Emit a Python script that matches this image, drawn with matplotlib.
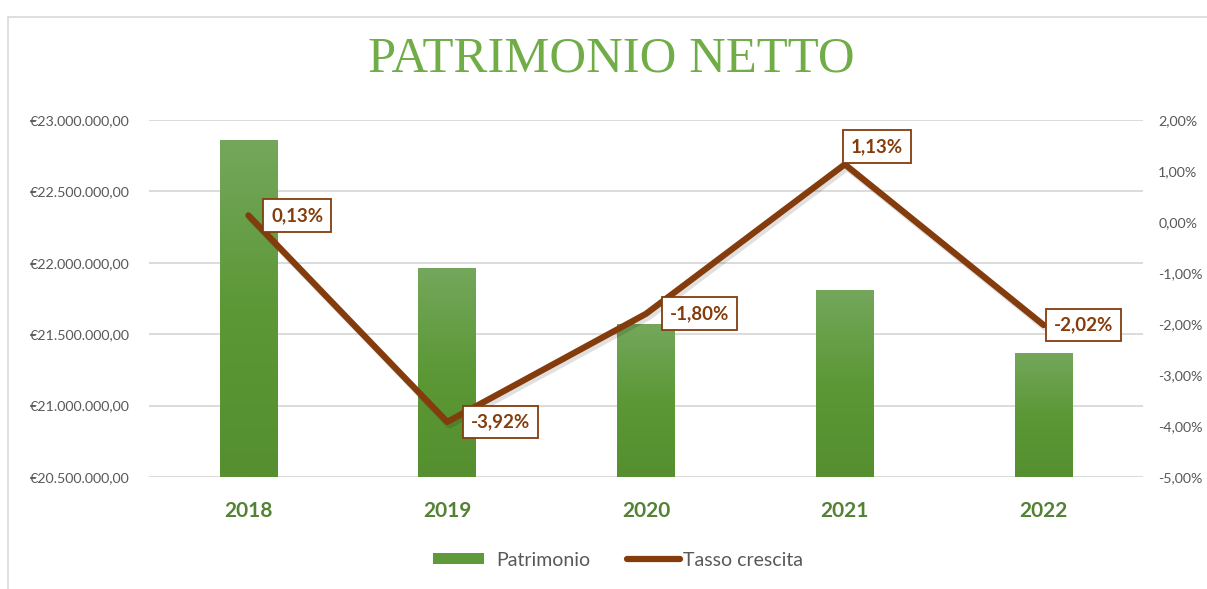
import numpy as np
import matplotlib
matplotlib.use("Agg")
import matplotlib.pyplot as plt
from matplotlib.patches import Rectangle
from matplotlib.lines import Line2D
from matplotlib.ticker import FuncFormatter, MultipleLocator
from matplotlib.colors import LinearSegmentedColormap

years = ["2018", "2019", "2020", "2021", "2022"]
patrimonio = [22860000, 21964000, 21568000, 21812000, 21370000]
tasso = [0.13, -3.92, -1.80, 1.13, -2.02]
tasso_labels = ["0,13%", "-3,92%", "-1,80%", "1,13%", "-2,02%"]
series_names = ["Patrimonio", "Tasso crescita"]

title = "PATRIMONIO NETTO"
green_title = "#70AD47"
green_dark = "#548235"
brown = "#843C0C"
grey_text = "#595959"
grid_c = "#D9D9D9"

plt.rcParams['font.family'] = ['Lato', 'DejaVu Sans']

W, H = 1207, 589
fig = plt.figure(figsize=(W / 100, H / 100), dpi=100)

# chart frame
fig.patches.append(Rectangle((8 / W, -0.1), 1.2, 1 - 17 / H + 0.1, transform=fig.transFigure,
                             fill=False, edgecolor="#D9D9D9", lw=1.2))

YMIN, YMAX = 20500000, 23000000
ax = fig.add_axes([149 / W, 1 - 477 / H, (1143 - 149) / W, (477 - 120) / H])
x = np.arange(len(years))
heights = np.array(patrimonio) - YMIN
bars = ax.bar(x, heights, bottom=YMIN, width=0.29, color="#5E9A3A", zorder=2)
ax.set_ylim(YMIN, YMAX)
ax.set_xlim(-0.5, len(years) - 0.5)
ax.yaxis.set_major_locator(MultipleLocator(500000))

def eur(v, pos):
    s = f"{v:,.2f}"
    s = s.replace(",", "X").replace(".", ",").replace("X", ".")
    return "€" + s

ax.yaxis.set_major_formatter(FuncFormatter(eur))
ax.grid(axis="y", color=grid_c, lw=1.3, zorder=0)
ax.set_axisbelow(True)
for sp in ax.spines.values():
    sp.set_visible(False)
ax.tick_params(axis="y", length=0, pad=14, labelsize=10.3, labelcolor=grey_text)
ax.set_xticks(x)
ax.set_xticklabels(years)
ax.tick_params(axis="x", length=0, pad=17, labelsize=15, labelcolor=green_dark)
for t in ax.get_xticklabels():
    t.set_fontweight("bold")

# gradient fill for bars
cmap = LinearSegmentedColormap.from_list("g", ["#558F2F", "#5C9836", "#74A75C"])
grad = np.linspace(0, 1, 256).reshape(-1, 1)
for b in bars:
    x0, y0 = b.get_x(), b.get_y()
    w, h = b.get_width(), b.get_height()
    b.set_facecolor("none")
    im = ax.imshow(grad, extent=(x0, x0 + w, y0, y0 + h), origin="lower", cmap=cmap,
                   aspect="auto", zorder=2)
    im.set_clip_path(b)
ax.set_xlim(-0.5, len(years) - 0.5)
ax.set_ylim(YMIN, YMAX)

ax2 = ax.twinx()
ax2.set_ylim(-5, 2)
ax2.yaxis.set_major_locator(MultipleLocator(1))
ax2.yaxis.set_major_formatter(FuncFormatter(lambda v, p: f"{v:.2f}".replace(".", ",") + "%"))
for sp in ax2.spines.values():
    sp.set_visible(False)
ax2.tick_params(axis="y", length=0, pad=11, labelsize=10.3, labelcolor=grey_text)
# shadow
ax2.plot(x + 0.012, np.array(tasso) - 0.06, color="#000000", alpha=0.12, lw=5, zorder=3,
         solid_capstyle="round", solid_joinstyle="round")
ax2.plot(x, tasso, color=brown, lw=4.5, zorder=4, solid_capstyle="round", solid_joinstyle="round")

offsets = [(16.5, 0, "left"), (17, 0, "left"), (17, 0, "left"), (23, 13, "center"), (7.5, 0, "left")]
for xi, yi, lab, (dx, dy, ha) in zip(x, tasso, tasso_labels, offsets):
    ax2.annotate(lab, (xi, yi), xytext=(dx, dy), textcoords="offset points",
                 ha=ha, va="center",
                 fontsize=13.5, fontweight="bold", color=brown, zorder=6,
                 bbox=dict(boxstyle="square,pad=0.42", fc="white", ec=brown, lw=1.3))

fig.text(611 / W, 1 - 59 / H, title, ha="center", va="center", color=green_title,
         fontsize=36.5, family=["Liberation Serif"])

# legend: two single-entry legends to mimic Excel spacing
h_bar = Rectangle((0, 0), 1, 1, fc="#5E9A3A", ec="none")
h_line = Line2D([0], [0], color=brown, lw=4.5, solid_capstyle="round")
common = dict(loc="center left", frameon=False, fontsize=14, borderpad=0, borderaxespad=0,
              handleheight=0.55)
leg1 = fig.legend([h_bar], [series_names[0]], bbox_to_anchor=(433 / W, 1 - 560 / H),
                  handlelength=2.63, handletextpad=0.6, **common)
leg2 = fig.legend([h_line], [series_names[1]], bbox_to_anchor=(627 / W, 1 - 560 / H),
                  handlelength=2.7, handletextpad=0.2, **common)
for lg in (leg1, leg2):
    for t in lg.get_texts():
        t.set_color(grey_text)

fig.savefig("out.png", dpi=100)
